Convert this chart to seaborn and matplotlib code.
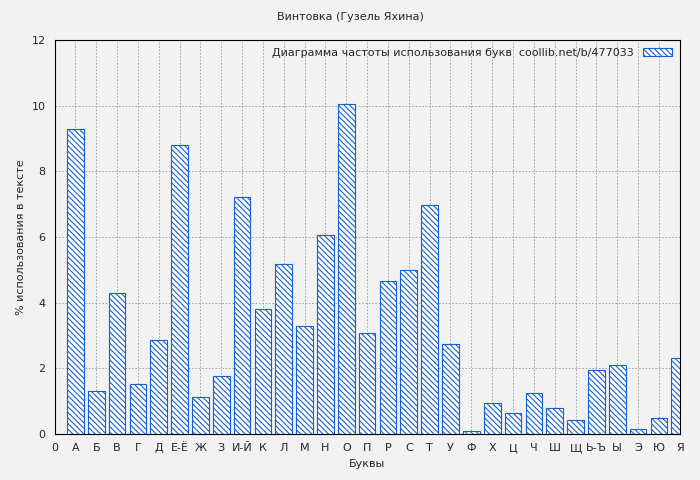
import matplotlib
matplotlib.use("Agg")
import matplotlib.pyplot as plt
import seaborn as sns
import pandas as pd
from matplotlib.patches import Patch

letters = ["А", "Б", "В", "Г", "Д", "Е-Ё", "Ж", "З", "И-Й", "К", "Л", "М", "Н", "О", "П",
           "Р", "С", "Т", "У", "Ф", "Х", "Ц", "Ч", "Ш", "Щ", "Ь-Ъ", "Ы", "Э", "Ю", "Я"]
percent = [9.3, 1.31, 4.3, 1.52, 2.87, 8.8, 1.13, 1.77, 7.22, 3.81, 5.18, 3.29, 6.06, 10.05, 3.08,
           4.66, 5.0, 6.97, 2.74, 0.09, 0.95, 0.64, 1.25, 0.79, 0.43, 1.95, 2.1, 0.15, 0.49, 2.32]

df = pd.DataFrame({"letter": letters, "pct": percent})

sns.set_style("whitegrid")
plt.rcParams['font.family'] = ['DejaVu Sans']
plt.rcParams['hatch.color'] = '#1560d0'
plt.rcParams['hatch.linewidth'] = 0.8

fig = plt.figure(figsize=(7, 4.8), dpi=100, facecolor='#f2f2f2')
ax = fig.add_axes([0.078, 0.096, 0.893, 0.821])
ax.set_facecolor('#f2f2f2')

sns.barplot(data=df, x="letter", y="pct", ax=ax, color='white', width=0.8,
            edgecolor='#1560d0', linewidth=0.8, hatch='\\\\\\\\\\\\')
for p in ax.patches:
    p.set_facecolor('white')
    p.set_hatch('\\\\\\\\\\\\')

ax.set_xlim(-1, 29)
ax.set_ylim(0, 12)
ax.set_xticks(range(-1, 30))
ax.set_xticklabels(["0"] + letters, fontsize=8)
ax.set_yticks(range(0, 13, 2))
ax.set_yticklabels([str(v) for v in range(0, 13, 2)], fontsize=8)
ax.tick_params(length=3, direction='out')
ax.grid(True, color='#999999', linestyle=(0, (2, 2)), linewidth=0.6)
for s in ax.spines.values():
    s.set_color('black')
    s.set_linewidth(0.8)

ax.set_xlabel("Буквы", fontsize=8)
ax.set_ylabel("% использования в тексте", fontsize=8)
fig.suptitle("Винтовка (Гузель Яхина)", fontsize=8, y=0.975)

handle = Patch(facecolor='white', edgecolor='#1560d0', hatch='\\\\\\\\\\\\', linewidth=0.8)
ax.legend([handle], ["Диаграмма частоты использования букв  coollib.net/b/477033"],
          loc='upper right', fontsize=8, frameon=False, markerfirst=False,
          handlelength=2.6, borderaxespad=0.3)

fig.savefig("out.png", dpi=100, facecolor=fig.get_facecolor())
